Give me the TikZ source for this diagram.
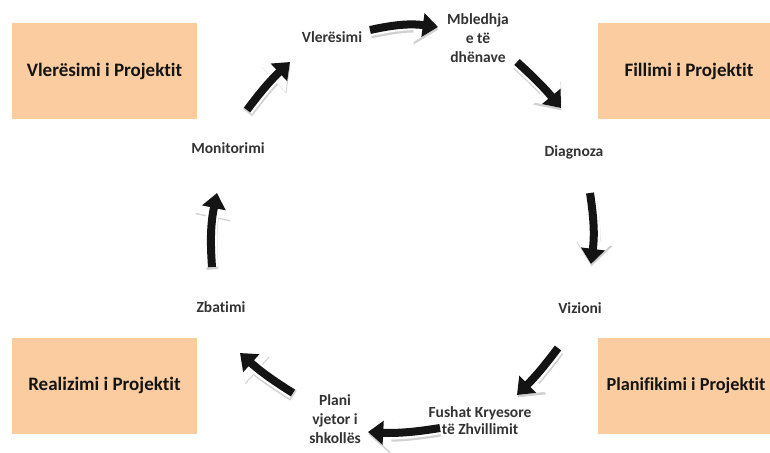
\documentclass[tikz,border=0pt]{standalone}
\usepackage{fontspec}
\setmainfont[Ligatures=NoCommon]{Carlito}
\usetikzlibrary{arrows.meta}
\definecolor{phasebg}{RGB}{250,204,160}

\begin{document}
\begin{tikzpicture}[x=1pt, y=-1pt,
      every node/.append style={align=center, inner sep=1pt},
      step label/.style={font=\fontsize{15.5}{19}\selectfont\bfseries, text=black!80},
      phase/.style={fill=phasebg, minimum width=185pt, minimum height=96pt,
        font=\fontsize{19}{22}\selectfont\bfseries, text=black!92}]
    \tikzstyle{flow} = [line width=8pt, draw=black!92,
      -{Triangle[length=0pt 1.9, width=0pt 2.9]},
      preaction={draw=black!18, line width=12pt, transform canvas={shift={(0.5pt,-2.5pt)}}},
      preaction={draw=white, line width=12.5pt}]
    \useasboundingbox (0,0) rectangle (770,452);
    % phases
    \node [phase] (evalbox) at (104.5,71) {Vlerësimi i Projektit};
    \node [phase, minimum width=182pt] (startbox) at (689,71) {Fillimi i Projektit};
    \node [phase] (realbox) at (104.5,385.5) {Realizimi i Projektit};
    \node [phase, minimum width=176pt, font=\fontsize{18.3}{22}\selectfont\bfseries] (planbox) at (686,385.5) {Planifikimi i Projektit};
    % steps of the cycle
    \node [step label] (vler) at (332,37) {Vlerësimi};
    \node [step label] (mbl) at (478,38) {Mbledhja\\e të\\dhënave};
    \node [step label] (diag) at (574,152) {Diagnoza};
    \node [step label] (viz) at (580,308) {Vizioni};
    \node [step label, font=\fontsize{15.5}{17}\selectfont\bfseries] (fush) at (480,421) {Fushat Kryesore\\të Zhvillimit};
    \node [step label] (plani) at (335,419) {Plani\\vjetor i\\shkollës};
    \node [step label] (zbat) at (221,307) {Zbatimi};
    \node [step label] (moni) at (228,148) {Monitorimi};
    % arrows
    \draw [flow] ([shift={(38,-7)}]vler.center) to[bend left=10] ([shift={(-40,-11)}]mbl.center);
    \draw [flow] ([shift={(39,24)}]mbl.center) to[bend left=4] ([shift={(-13,-44)}]diag.center);
    \draw [flow] ([shift={(16,41)}]diag.center) to[bend left=8] ([shift={(11,-44)}]viz.center);
    \draw [flow] ([shift={(-22,40)}]viz.center) to[bend left=4] ([shift={(37,-26)}]fush.center);
    \draw [flow] ([shift={(-40,7)}]fush.center) to[bend left=6] ([shift={(33,13)}]plani.center);
    \draw [flow] ([shift={(-42,-26)}]plani.center) to[bend left=5] ([shift={(19,46)}]zbat.center);
    \draw [flow] ([shift={(-9,-40)}]zbat.center) to[bend left=8] ([shift={(-11,45)}]moni.center);
    \draw [flow] ([shift={(19,-38)}]moni.center) to[bend left=5] ([shift={(-42,25)}]vler.center);
\end{tikzpicture}
\end{document}
